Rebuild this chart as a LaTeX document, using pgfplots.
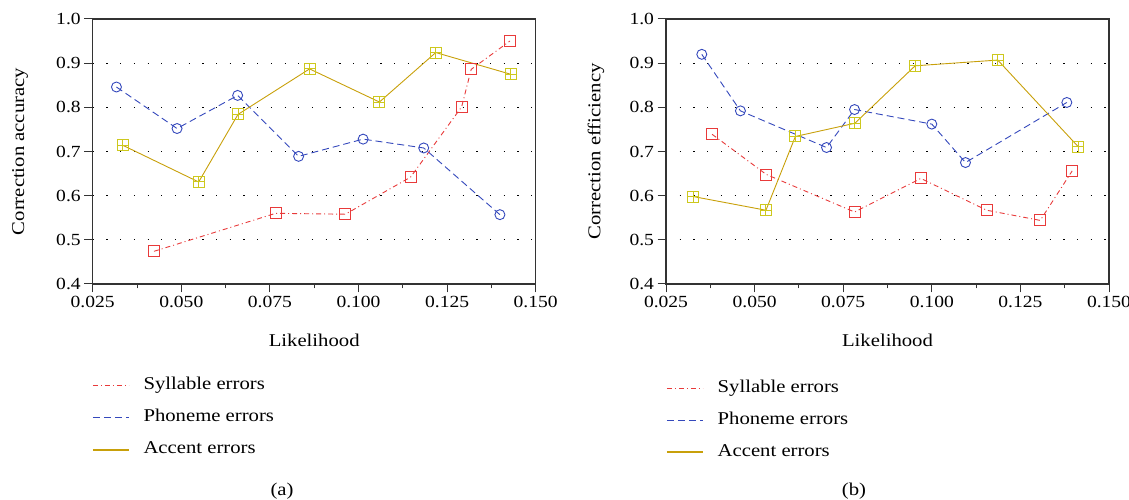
\documentclass[border=0pt]{standalone}
\usepackage{fontspec}
\setmainfont{Liberation Serif}[FakeStretch=1.15]
\usepackage{pgfplots}
\pgfplotsset{compat=1.18}
\definecolor{redc}{RGB}{232,58,58}
\definecolor{bluec}{RGB}{52,72,188}
\definecolor{goldl}{RGB}{200,160,10}
\definecolor{goldm}{RGB}{205,200,30}
\pgfplotsset{
  myax/.style={
    scale only axis, width=443pt, height=265pt,
    xmin=0.025, xmax=0.150, ymin=0.4, ymax=1.0,
    xtick={0.025,0.05,0.075,0.1,0.125,0.15},
    ytick={0.4,0.5,0.6,0.7,0.8,0.9,1.0},
    minor x tick num=1,
    tick align=outside, xtick pos=bottom, ytick pos=left,
    major tick length=8.5pt, minor tick length=4.5pt,
    every tick/.style={black!80, line width=1pt},
    axis line style={black!80, line width=1.1pt},
    ymajorgrids, grid style={black, line width=1.2pt, dash pattern=on 1.2pt off 12.5pt},
    /pgf/number format/assume math mode=true,
    xticklabel style={/pgf/number format/.cd, fixed, fixed zerofill, precision=3},
    yticklabel style={/pgf/number format/.cd, fixed, fixed zerofill, precision=1},
    tick label style={font=\fontsize{17}{20}\selectfont},
    label style={font=\fontsize{18}{21}\selectfont},
    xlabel={Likelihood},
    xlabel style={at={(axis description cs:0.5,-0.211)}, anchor=center},
    legend cell align=left,
    legend style={draw=none, fill=none, inner sep=0pt, font=\fontsize{18}{21}\selectfont,
      row sep=16pt, column sep=14pt,
      nodes={inner sep=0pt, text height=12pt, text depth=4pt}},
    legend image code/.code={\draw[#1] (0pt,0pt) -- (36pt,0pt);},
  },
  syl/.style={redc, line width=0.9pt, dash pattern=on 5pt off 3pt on 1pt off 3pt, mark=square, mark size=5.5pt, mark options={solid, line width=0.9pt}},
  pho/.style={bluec, line width=0.9pt, dash pattern=on 7pt off 4pt, mark=o, mark size=5pt, mark options={solid, line width=0.9pt}},
  acc/.style={goldl, line width=0.9pt, solid, mark=square, mark size=5.5pt, mark options={solid, goldm, line width=1pt}},
  accp/.style={only marks, mark=+, mark size=5.5pt, mark options={solid, goldm, line width=1pt}},
}
\begin{document}
\begin{tikzpicture}[font=\fontsize{18}{21}\selectfont]
\useasboundingbox (0pt,0pt) rectangle (1129pt,500pt);
% ---------------- (a)
\begin{axis}[myax, at={(92.7pt,216pt)}, anchor=south west,
  ylabel={Correction accuracy},
  ylabel style={at={(axis description cs:-0.164,0.5)}, anchor=center},
  legend style={at={(axis description cs:-0.002,-0.505)}, anchor=west}]
\addplot[syl, forget plot] coordinates {(0.0423,0.474)(0.0766,0.560)(0.0963,0.558)(0.1147,0.642)(0.1291,0.801)(0.1318,0.886)(0.1427,0.950)};
\addplot[pho, forget plot] coordinates {(0.0317,0.846)(0.0488,0.752)(0.0659,0.827)(0.0831,0.689)(0.1013,0.728)(0.1184,0.708)(0.1399,0.557)};
\addplot[acc, forget plot] coordinates {(0.0335,0.714)(0.0549,0.631)(0.0660,0.784)(0.0862,0.887)(0.1059,0.812)(0.1218,0.924)(0.1429,0.875)};
\addplot[accp, forget plot] coordinates {(0.0335,0.714)(0.0549,0.631)(0.0660,0.784)(0.0862,0.887)(0.1059,0.812)(0.1218,0.924)(0.1429,0.875)};
\addlegendimage{redc, line width=1.3pt, dash pattern=on 5pt off 3pt on 1pt off 3pt}
\addlegendentry{Syllable errors}
\addlegendimage{bluec, line width=1.3pt, dash pattern=on 7pt off 4pt}
\addlegendentry{Phoneme errors}
\addlegendimage{goldl, line width=1.5pt}
\addlegendentry{Accent errors}
\end{axis}
% ---------------- (b)
\begin{axis}[myax, at={(666pt,216pt)}, anchor=south west,
  ylabel={Correction efficiency},
  ylabel style={at={(axis description cs:-0.158,0.5)}, anchor=center},
  legend style={at={(axis description cs:0,-0.514)}, anchor=west}]
\addplot[syl, forget plot] coordinates {(0.0380,0.739)(0.0533,0.648)(0.0782,0.563)(0.0969,0.639)(0.1155,0.567)(0.1306,0.544)(0.1396,0.656)};
\addplot[pho, forget plot] coordinates {(0.0351,0.920)(0.0460,0.792)(0.0703,0.709)(0.0782,0.795)(0.1000,0.762)(0.1095,0.675)(0.1381,0.811)};
\addplot[acc, forget plot] coordinates {(0.0327,0.598)(0.0532,0.567)(0.0615,0.734)(0.0783,0.764)(0.0953,0.894)(0.1186,0.907)(0.1413,0.711)};
\addplot[accp, forget plot] coordinates {(0.0327,0.598)(0.0532,0.567)(0.0615,0.734)(0.0783,0.764)(0.0953,0.894)(0.1186,0.907)(0.1413,0.711)};
\addlegendimage{redc, line width=1.3pt, dash pattern=on 5pt off 3pt on 1pt off 3pt}
\addlegendentry{Syllable errors}
\addlegendimage{bluec, line width=1.3pt, dash pattern=on 7pt off 4pt}
\addlegendentry{Phoneme errors}
\addlegendimage{goldl, line width=1.5pt}
\addlegendentry{Accent errors}
\end{axis}
\node at (282pt,9pt) {(a)};
\node at (854pt,9pt) {(b)};
\end{tikzpicture}
\end{document}
